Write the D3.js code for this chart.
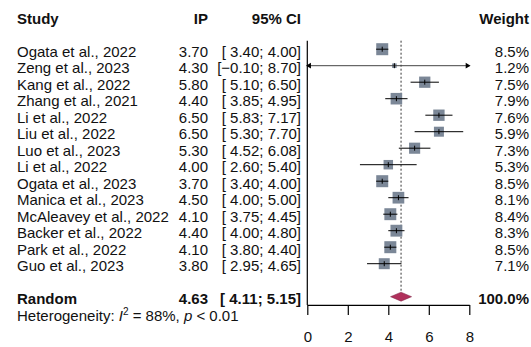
<!DOCTYPE html>
<html>
<head>
<meta charset="utf-8">
<script src="https://cdn.jsdelivr.net/npm/d3@7"></script>
<style>
  body { margin: 0; background: #fff; }
  text { font-family: "Liberation Sans", Arial, sans-serif; font-size: 15px; fill: #111; }
</style>
</head>
<body>
<div id="root"></div>
<script>
const width = 531
const height = 347

// data
const studies = ['Ogata et al., 2022', 'Zeng et al., 2023', 'Kang et al., 2022', 'Zhang et al., 2021',
  'Li et al., 2022', 'Liu et al., 2022', 'Luo et al., 2023', 'Li et al., 2022', 'Ogata et al., 2023',
  'Manica et al., 2023', 'McAleavey et al., 2022', 'Backer et al., 2022', 'Park et al., 2022', 'Guo et al., 2023']
const est = [3.70, 4.30, 5.80, 4.40, 6.50, 6.50, 5.30, 4.00, 3.70, 4.50, 4.10, 4.40, 4.10, 3.80]
const lower = [3.40, -0.10, 5.10, 3.85, 5.83, 5.30, 4.52, 2.60, 3.40, 4.00, 3.75, 4.00, 3.80, 2.95]
const upper = [4.00, 8.70, 6.50, 4.95, 7.17, 7.70, 6.08, 5.40, 4.00, 5.00, 4.45, 4.80, 4.40, 4.65]
const weights = [8.5, 1.2, 7.5, 7.9, 7.6, 5.9, 7.3, 5.3, 8.5, 8.1, 8.4, 8.3, 8.5, 7.1]
const pooled = { est: 4.63, lower: 4.11, upper: 5.15 }
const xTicks = [0, 2, 4, 6, 8]

const rows = studies.map((s, i) => ({ study: s, est: est[i], lo: lower[i], hi: upper[i], w: weights[i] }))

const svg = d3.select('#root').append('svg')
  .attr('width', width)
  .attr('height', height)

const x = d3.scaleLinear().domain([0, 8]).range([307.3, 469.3])
const y = i => 49.2 + i * 16.5
const size = d3.scaleSqrt().domain([0, d3.max(weights)]).range([0, 12])
const fmt = d3.format('.2f')
const ci = (lo, hi) => '[' + (lo < 0 ? '' : ' ') + fmt(lo) + '; ' + fmt(hi) + ']'

const base = 7.5
const colIP = 208, colCI = 301, colW = 529, colStudy = 17

// headers
const hy = y(-2) + base
svg.append('text').attr('x', colStudy).attr('y', hy).attr('font-weight', 'bold').text('Study')
svg.append('text').attr('x', colIP).attr('y', hy).attr('font-weight', 'bold').attr('text-anchor', 'end').text('IP')
svg.append('text').attr('x', colCI).attr('y', hy).attr('font-weight', 'bold').attr('text-anchor', 'end').text('95% CI')
svg.append('text').attr('x', colW).attr('y', hy).attr('font-weight', 'bold').attr('text-anchor', 'end').text('Weight')

// reference lines
svg.append('line')
  .attr('x1', x(0)).attr('x2', x(0))
  .attr('y1', y(0) - 8.5).attr('y2', y(15.5))
  .attr('stroke', '#000').attr('stroke-width', 1.2)
svg.append('line')
  .attr('x1', x(pooled.est)).attr('x2', x(pooled.est))
  .attr('y1', y(0) - 8.5).attr('y2', y(15) - 5)
  .attr('stroke', '#333').attr('stroke-width', 1).attr('stroke-dasharray', '2,2')

const g = svg.selectAll('g.row')
  .data(rows)
  .enter().append('g')
  .attr('class', 'row')
  .attr('transform', (d, i) => `translate(0,${y(i)})`)

g.append('text').attr('x', colStudy).attr('y', base).text(d => d.study)
g.append('text').attr('x', colIP).attr('y', base).attr('text-anchor', 'end').text(d => fmt(d.est))
g.append('text').attr('x', colCI).attr('y', base).attr('text-anchor', 'end')
  .style('white-space', 'pre').text(d => ci(d.lo, d.hi))
g.append('text').attr('x', colW).attr('y', base).attr('text-anchor', 'end').text(d => d.w.toFixed(1) + '%')

g.append('rect')
  .attr('x', d => x(d.est) - size(d.w) / 2)
  .attr('y', d => -size(d.w) / 2)
  .attr('width', d => size(d.w))
  .attr('height', d => size(d.w))
  .attr('fill', '#7b8797')

g.append('line')
  .attr('x1', d => x(Math.max(0, d.lo)))
  .attr('x2', d => x(Math.min(8, d.hi)))
  .attr('stroke', d => d.lo < 0 ? '#444' : '#000')
  .attr('stroke-width', 1)
g.append('line')
  .attr('x1', d => x(d.est)).attr('x2', d => x(d.est))
  .attr('y1', -2.5).attr('y2', 2.5)
  .attr('stroke', '#000')

// arrows for truncated intervals
g.filter(d => d.lo < 0).append('path')
  .attr('d', d3.symbol(d3.symbolTriangle, 14))
  .attr('transform', `translate(${x(0) + 2},0) rotate(-90)`)
  .attr('fill', '#000')
g.filter(d => d.hi > 8).append('path')
  .attr('d', d3.symbol(d3.symbolTriangle, 14))
  .attr('transform', `translate(${x(8) - 2},0) rotate(90)`)
  .attr('fill', '#000')

// pooled
const py = y(15)
svg.append('text').attr('x', colStudy).attr('y', py + base).attr('font-weight', 'bold').text('Random')
svg.append('text').attr('x', colIP).attr('y', py + base).attr('font-weight', 'bold').attr('text-anchor', 'end').text(fmt(pooled.est))
svg.append('text').attr('x', colCI).attr('y', py + base).attr('font-weight', 'bold').attr('text-anchor', 'end')
  .style('white-space', 'pre').text(ci(pooled.lower, pooled.upper))
svg.append('text').attr('x', colW).attr('y', py + base).attr('font-weight', 'bold').attr('text-anchor', 'end').text('100.0%')
svg.append('path')
  .attr('d', `M${x(pooled.lower)},${py} L${x(pooled.est)},${py - 4.5} L${x(pooled.upper)},${py} L${x(pooled.est)},${py + 4.5} Z`)
  .attr('fill', '#b0305c')
  .attr('stroke', '#7a1f40').attr('stroke-width', 0.5)

// heterogeneity
const het = svg.append('text').attr('x', colStudy).attr('y', y(16) + base)
het.append('tspan').text('Heterogeneity: ')
het.append('tspan').attr('font-style', 'italic').text('I')
het.append('tspan').attr('font-size', '10px').attr('dy', -6).text('2')
het.append('tspan').attr('dy', 6).text(' = 88%, ')
het.append('tspan').attr('font-style', 'italic').text('p')
het.append('tspan').text(' < 0.01')

// axis
const axis = svg.append('g')
  .attr('transform', `translate(0,${y(15.5)})`)
  .call(d3.axisBottom(x).tickValues(xTicks).tickSize(10).tickPadding(16).tickSizeOuter(0))
axis.select('.domain').attr('stroke', '#000').attr('stroke-width', 1.2)
axis.selectAll('.tick line').attr('stroke', '#000').attr('stroke-width', 1.2)
axis.selectAll('.tick text').style('font-size', '15px').attr('fill', '#111')
  .style('font-family', '"Liberation Sans", Arial, sans-serif')
</script>
</body>
</html>
